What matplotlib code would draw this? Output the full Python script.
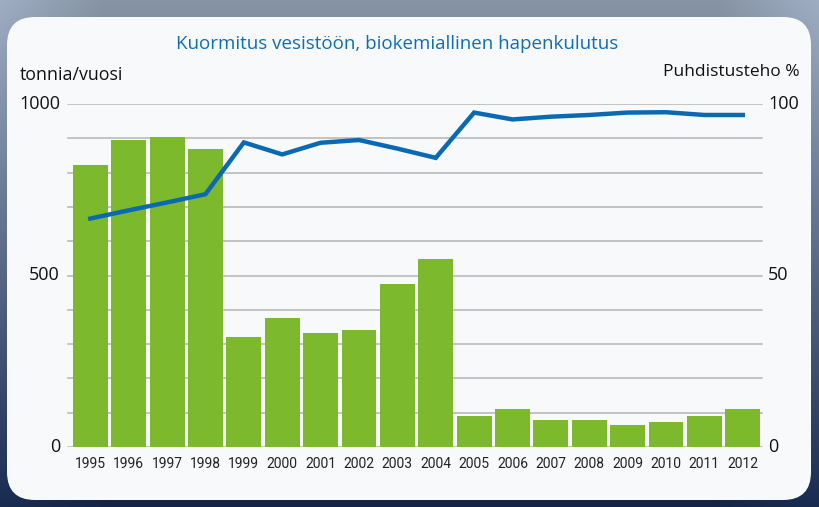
import numpy as np
import matplotlib
matplotlib.use("Agg")
import matplotlib.pyplot as plt
from matplotlib.patches import FancyBboxPatch

years = ["1995", "1996", "1997", "1998", "1999", "2000", "2001", "2002", "2003",
         "2004", "2005", "2006", "2007", "2008", "2009", "2010", "2011", "2012"]
load_t = [822, 895, 904, 869, 321, 376, 332, 341, 475, 548,
          91, 111, 79, 79, 64, 73, 91, 111]
efficiency = [66.6, 69.0, 71.3, 73.7, 88.8, 85.3, 88.7, 89.5, 87.0, 84.3,
              97.5, 95.5, 96.3, 96.8, 97.5, 97.6, 96.8, 96.8]
left_ticks = [0, 500, 1000]
right_ticks = [0, 50, 100]

W, H = 819, 507
fig = plt.figure(figsize=(W / 100, H / 100), dpi=100)

# background "photo" approximation
bg = fig.add_axes([0, 0, 1, 1], zorder=-10)
yy, xx = np.mgrid[0:1:200j, 0:1:300j]
base = np.zeros((200, 300, 3))
c_top = np.array([0.62, 0.68, 0.76])
c_bot = np.array([0.10, 0.17, 0.32])
for k in range(3):
    base[..., k] = c_top[k] * (1 - yy) + c_bot[k] * yy
edge = np.clip(1 - np.minimum(xx, 1 - xx) * 8, 0, 1)[..., None]
base = base * (0.85 + 0.15 * edge)
bg.imshow(base, extent=[0, W, 0, H], aspect="auto", origin="upper")
bg.set_xlim(0, W)
bg.set_ylim(0, H)
panel = FancyBboxPatch((7, 7), 804, 483, boxstyle="round,pad=0,rounding_size=28",
                       facecolor="#f8f9fb", edgecolor="none")
bg.add_patch(panel)
bg.axis("off")

ax_l, ax_r = 65 / W, 765 / W
ax_b, ax_t = 1 - 447 / H, 1 - 104 / H
ax = fig.add_axes([ax_l, ax_b, ax_r - ax_l, ax_t - ax_b])
ax.set_facecolor("none")
x = np.arange(len(years))
ax.bar(x, load_t, width=0.91, color="#7cb92c", zorder=2)
ax.set_xlim(-0.66, 17.58)
ax.set_ylim(0, 1000)
for v in range(0, 1001, 100):
    ax.axhline(v, xmin=0.004, xmax=0.996, color="#b4b4b4", lw=1.1, zorder=1)
for s in ax.spines.values():
    s.set_visible(False)
ax.set_yticks([])
ax.set_xticks(x)
ax.set_xticklabels(years, family=["Roboto", "DejaVu Sans"], fontsize=10, color="#222222")
ax.tick_params(axis="x", length=0, pad=7)

ax2 = ax.twinx()
ax2.plot(x, efficiency, color="#0a69b3", lw=3.2, solid_joinstyle="miter", zorder=3)
ax2.set_ylim(0, 100)
ax2.set_yticks([])
for s in ax2.spines.values():
    s.set_visible(False)

font = ["Open Sans", "DejaVu Sans"]
for v in left_ticks:
    ax.text(-0.66 - 5 / 38.35, v, str(v), ha="right", va="center",
            family=font, fontsize=13, color="#111111")
for v in right_ticks:
    ax2.text(17.58 + 3 / 38.35, v, str(v), ha="left", va="center",
             family=font, fontsize=13, color="#111111")

fig.text(397 / W, 1 - 44 / H, "Kuormitus vesistöön, biokemiallinen hapenkulutus",
         ha="center", va="center", family=font, fontsize=13.5, color="#0f6db6")
fig.text(20 / W, 1 - 75 / H, "tonnia/vuosi", ha="left", va="center",
         family=font, fontsize=12.8, color="#111111")
fig.text(800 / W, 1 - 72 / H, "Puhdistusteho %", ha="right", va="center",
         family=font, fontsize=12.5, color="#111111")

fig.savefig("out.png", dpi=100)
